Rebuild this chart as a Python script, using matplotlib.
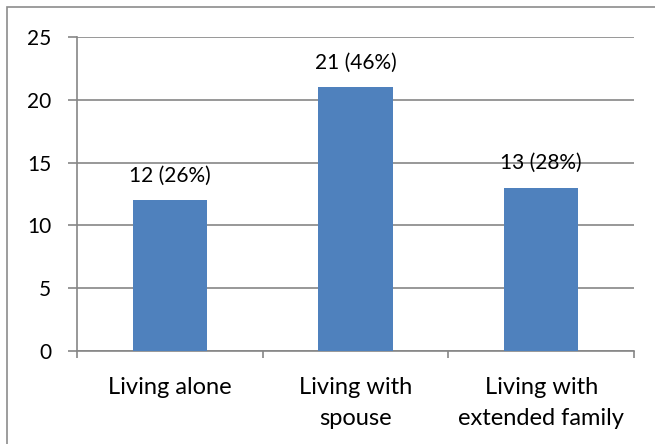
import matplotlib
matplotlib.use('Agg')
import matplotlib.pyplot as plt
from matplotlib.patches import Rectangle

# Chart data
categories = ['Living alone', 'Living with\nspouse', 'Living with\nextended family']
counts = [12, 21, 13]
percents = [26, 46, 28]
y_ticks = [0, 5, 10, 15, 20, 25]

plt.rcParams['font.family'] = ['Lato', 'DejaVu Sans']

fig = plt.figure(figsize=(6.55, 4.44), dpi=100)
ax = fig.add_axes([0.1176, 0.2095, 0.9679 - 0.1176, 0.9167 - 0.2095])

# Outer chart border (only left/top visible in the crop)
fig.patches.append(Rectangle((7 / 655, -0.05), 1.2, 1 - 7 / 444 + 0.05,
                             transform=fig.transFigure, fill=False,
                             edgecolor='#8c8c8c', linewidth=1.2))

x = range(len(categories))
ax.bar(x, counts, width=0.4, color='#4F81BD', zorder=3)

for xi, c, p in zip(x, counts, percents):
    ax.text(xi, c + 1.95, f'{c} ({p}%)', ha='center', va='center', fontsize=15)

ax.set_xlim(-0.5, len(categories) - 0.5)
ax.set_ylim(0, 25)
ax.set_yticks(y_ticks)
ax.yaxis.grid(True, color='#868686', linewidth=1.2, zorder=0)

ax.set_xticks([i - 0.5 for i in range(len(categories) + 1)])
ax.set_xticklabels([])
ax.set_xticks(list(x), minor=True)
ax.set_xticklabels(categories, minor=True, fontsize=17, linespacing=1.55)
ax.tick_params(axis='x', which='minor', length=0, pad=19)
ax.tick_params(axis='x', which='major', length=5, color='#868686', width=1.2)
ax.tick_params(axis='y', length=6.5, color='#868686', width=1.2, labelsize=15, pad=12)

for s in ['top', 'right']:
    ax.spines[s].set_visible(False)
for s in ['left', 'bottom']:
    ax.spines[s].set_color('#868686')
    ax.spines[s].set_linewidth(1.2)

fig.savefig('out.png', dpi=100)
